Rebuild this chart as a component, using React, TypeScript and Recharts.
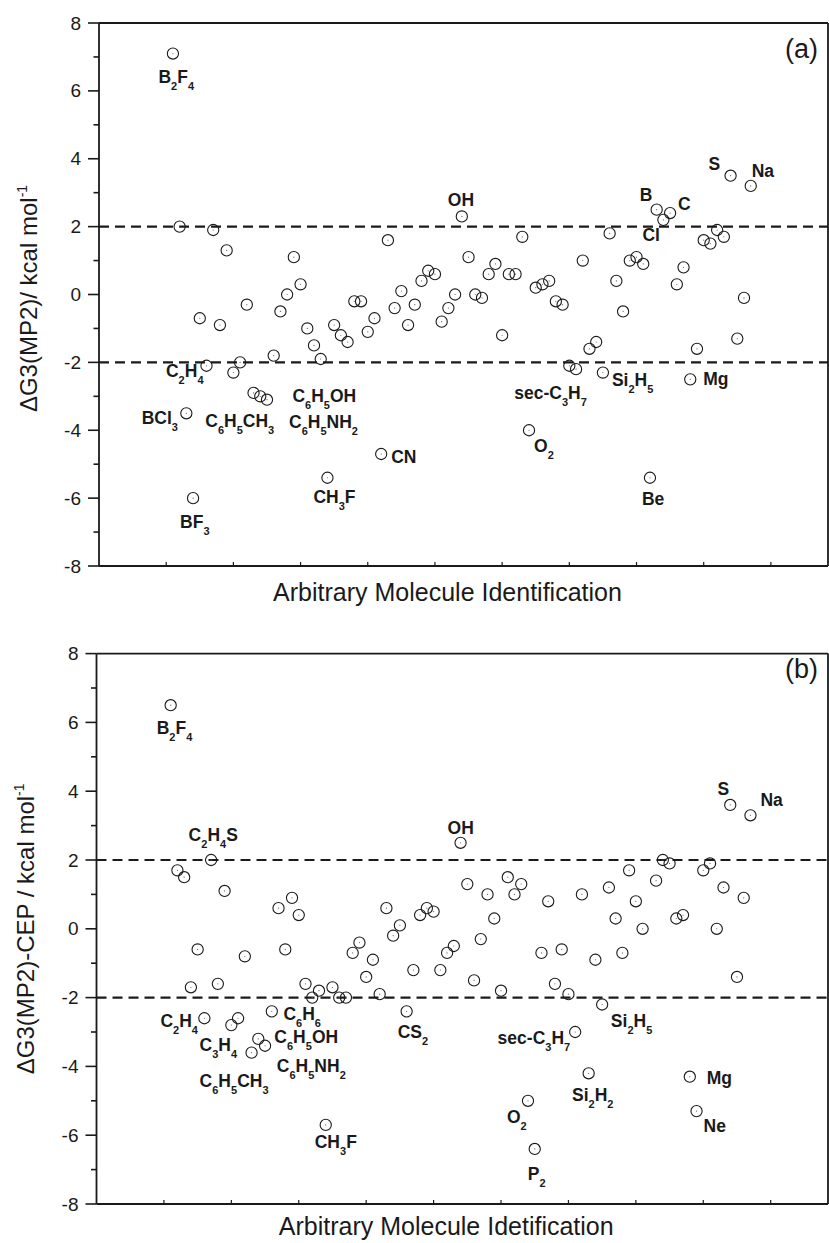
import React from "react";
import { ScatterChart, Scatter, XAxis, YAxis, ReferenceLine } from "recharts";

// molecule identification numbers (x) and deviations in kcal/mol (y)
const idsA = [
  11, 12, 13, 14, 15, 16, 17, 18, 19, 20, 21, 22, 23, 24, 25, 26, 27, 28, 29,
  30, 31, 32, 33, 34, 35, 36, 37, 38, 39, 40, 41, 42, 43, 44, 45, 46, 47, 48,
  49, 50, 51, 52, 53, 54, 55, 56, 57, 58, 59, 60, 61, 62, 63, 64, 65, 66, 67,
  68, 69, 70, 71, 72, 73, 74, 75, 76, 77, 78, 79, 80, 81, 82, 83, 84, 85, 86,
  87, 88, 89, 90, 91, 92, 93, 94, 95, 96, 97,
];
const valuesA = [
  7.1, 2.0, -3.5, -6.0, -0.7, -2.1, 1.9, -0.9, 1.3, -2.3, -2.0, -0.3, -2.9,
  -3.0, -3.1, -1.8, -0.5, 0.0, 1.1, 0.3, -1.0, -1.5, -1.9, -5.4, -0.9, -1.2,
  -1.4, -0.2, -0.2, -1.1, -0.7, -4.7, 1.6, -0.4, 0.1, -0.9, -0.3, 0.4, 0.7,
  0.6, -0.8, -0.4, 0.0, 2.3, 1.1, 0.0, -0.1, 0.6, 0.9, -1.2, 0.6, 0.6, 1.7,
  -4.0, 0.2, 0.3, 0.4, -0.2, -0.3, -2.1, -2.2, 1.0, -1.6, -1.4, -2.3, 1.8, 0.4,
  -0.5, 1.0, 1.1, 0.9, -5.4, 2.5, 2.2, 2.4, 0.3, 0.8, -2.5, -1.6, 1.6, 1.5,
  1.9, 1.7, 3.5, -1.3, -0.1, 3.2,
];
const namesA: Record<number, string> = {
  11: "B2F4", 13: "BCl3", 14: "BF3", 16: "C2H4", 25: "C6H5CH3", 32: "C6H5NH2",
  33: "C6H5OH", 34: "CH3F", 42: "CN", 54: "OH", 64: "O2", 70: "sec-C3H7",
  75: "Si2H5", 82: "Be", 83: "B", 84: "Cl", 85: "C", 88: "Mg", 94: "S", 97: "Na",
};

const idsB = [
  11, 12, 13, 14, 15, 16, 17, 18, 19, 20, 21, 22, 23, 24, 25, 26, 27, 28, 29,
  30, 31, 32, 33, 34, 35, 36, 37, 38, 39, 40, 41, 42, 43, 44, 45, 46, 47, 48,
  49, 50, 51, 52, 53, 54, 55, 56, 57, 58, 59, 60, 61, 62, 63, 64, 65, 66, 67,
  68, 69, 70, 71, 72, 73, 74, 75, 76, 77, 78, 79, 80, 81, 83, 84, 85, 86, 87,
  88, 89, 90, 91, 92, 93, 94, 95, 96, 97,
];
const valuesB = [
  6.5, 1.7, 1.5, -1.7, -0.6, -2.6, 2.0, -1.6, 1.1, -2.8, -2.6, -0.8, -3.6,
  -3.2, -3.4, -2.4, 0.6, -0.6, 0.9, 0.4, -1.6, -2.0, -1.8, -5.7, -1.7, -2.0,
  -2.0, -0.7, -0.4, -1.4, -0.9, -1.9, 0.6, -0.2, 0.1, -2.4, -1.2, 0.4, 0.6,
  0.5, -1.2, -0.7, -0.5, 2.5, 1.3, -1.5, -0.3, 1.0, 0.3, -1.8, 1.5, 1.0, 1.3,
  -5.0, -6.4, -0.7, 0.8, -1.6, -0.6, -1.9, -3.0, 1.0, -4.2, -0.9, -2.2, 1.2,
  0.3, -0.7, 1.7, 0.8, 0.0, 1.4, 2.0, 1.9, 0.3, 0.4, -4.3, -5.3, 1.7, 1.9, 0.0,
  1.2, 3.6, -1.4, 0.9, 3.3,
];
const namesB: Record<number, string> = {
  11: "B2F4", 16: "C2H4", 17: "C2H4S", 23: "C3H4", 24: "C6H5CH3", 25: "C6H5OH",
  26: "C6H6", 32: "C6H5NH2", 34: "CH3F", 46: "CS2", 54: "OH", 64: "O2",
  65: "P2", 71: "sec-C3H7", 73: "Si2H2", 75: "Si2H5", 88: "Mg", 89: "Ne",
  94: "S", 97: "Na",
};

const yTicks = [-8, -7, -6, -5, -4, -3, -2, -1, 0, 1, 2, 3, 4, 5, 6, 7, 8];
const xTicks = [10, 20, 30, 40, 50, 60, 70, 80, 90, 100];

// label placement: [dx, dy, anchor] from the circle centre to the text baseline
type Place = [number, number, "start" | "end"];
const placeA: Record<string, Place> = {
  B2F4: [-14.5, 29, "start"], BCl3: [-8.4, 10.6, "end"], BF3: [-13, 30, "start"],
  C2H4: [-3, 11.5, "end"], C6H5CH3: [-61.7, 27.4, "start"],
  C6H5OH: [-28.3, 42.7, "start"], C6H5NH2: [-25, 82.3, "start"],
  CH3F: [-14, 25, "start"], CN: [10, 9.4, "start"], OH: [-14, -10, "start"],
  O2: [5, 21.7, "start"], "sec-C3H7": [-55, 33.4, "start"],
  Si2H5: [9, 13, "start"], Be: [-8, 27.7, "start"], B: [-17, -8.6, "start"],
  Cl: [-21, 20.7, "start"], C: [8, -2.7, "start"], Mg: [13, 6, "start"],
  S: [-22, -5.7, "start"], Na: [1, -9.3, "start"],
};
const placeB: Record<string, Place> = {
  B2F4: [-14, 29, "start"], C2H4S: [-22.5, -19, "start"], C2H4: [-6.4, 8.7, "end"],
  C3H4: [-52, -1.6, "start"], C6H5CH3: [-58.7, 48, "start"],
  C6H6: [11.6, 9, "start"], C6H5OH: [9.3, -2.4, "start"],
  C6H5NH2: [-35.4, 74.4, "start"], CH3F: [-11, 23, "start"],
  CS2: [-9, 27, "start"], OH: [-13, -9, "start"], O2: [-21, 21.7, "start"],
  P2: [-7, 31, "start"], "sec-C3H7": [-5, 11.6, "end"],
  Si2H2: [-16.7, 27.7, "start"], Si2H5: [8.7, 22.7, "start"],
  Mg: [17, 7, "start"], Ne: [7, 21, "start"], S: [-12.7, -10.3, "start"],
  Na: [10, -9, "start"],
};

const FONT = "'Liberation Sans', Arial, Helvetica, sans-serif";
const INK = "#1a1a1a";

function Formula({ x, y, text, anchor }: { x: number; y: number; text: string; anchor: string }) {
  const parts = text.match(/\d+|\D+/g) || [];
  let low = false;
  return (
    <text x={x} y={y} textAnchor={anchor} fontFamily={FONT} fontWeight="bold" fontSize={17.5} fill={INK}>
      {parts.map((p, i) => {
        const sub = /^\d+$/.test(p);
        const dy = sub === low ? 0 : sub ? 7 : -7;
        low = sub;
        return (
          <tspan key={i} dy={dy} fontSize={sub ? 11 : 17.5}>
            {p}
          </tspan>
        );
      })}
    </text>
  );
}

function makeMarker(place: Record<string, Place>) {
  return (props: any) => {
    const { cx, cy, payload } = props;
    const name: string = payload?.name || "";
    const p = place[name];
    return (
      <g>
        <circle cx={cx} cy={cy} r={5.6} fill="none" stroke={INK} strokeWidth={1.1} />
        <circle cx={cx} cy={cy} r={0.6} fill="#666" />
        {name && p && <Formula x={cx + p[0]} y={cy + p[1]} text={name} anchor={p[2]} />}
      </g>
    );
  };
}

function LeftTick(props: any) {
  const { x, y, payload } = props;
  const v = payload.value;
  const major = v % 2 === 0;
  return (
    <g>
      <line x1={x - (major ? 11 : 5.5)} x2={x} y1={y} y2={y} stroke={INK} strokeWidth={1.6} />
      {major && (
        <text x={x - 18} y={y} dy={6.5} textAnchor="end" fontFamily={FONT} fontSize={19} fill={INK}>
          {v}
        </text>
      )}
    </g>
  );
}

function RightTick(props: any) {
  const { x, y } = props;
  return <line x1={x - 5} x2={x} y1={y} y2={y} stroke={INK} strokeWidth={1.6} />;
}

function BottomTick(props: any) {
  const { x, y } = props;
  return <line x1={x} x2={x} y1={y - 4} y2={y} stroke={INK} strokeWidth={1.2} />;
}

function TopTick(props: any) {
  const { x, y } = props;
  return <line x1={x} x2={x} y1={y} y2={y + 4} stroke={INK} strokeWidth={1.2} />;
}

interface PanelProps {
  ids: number[];
  values: number[];
  names: Record<number, string>;
  place: Record<string, Place>;
  letter: string;
  letterDy: number;
  yTitle: string;
  yTitleShift: number;
  xTitle: string;
  xTitleDy: number;
  height: number;
  margin: { top: number; right: number; bottom: number; left: number };
}

function Panel(props: PanelProps) {
  const { ids, values, names, place, letter, letterDy, yTitle, yTitleShift, xTitle, xTitleDy, height, margin } = props;
  const data = ids.map((id, i) => ({ x: id, y: values[i], name: names[id] || "" }));
  const axis = { stroke: INK, strokeWidth: 1.8 };
  return (
    <ScatterChart width={829} height={height} margin={margin}>
      <XAxis
        xAxisId="b"
        type="number"
        dataKey="x"
        domain={[0, 108.5]}
        ticks={xTicks}
        interval={0}
        height={1}
        tickSize={0}
        tickMargin={0}
        tickLine={false}
        axisLine={axis}
        tick={(p: any) => <BottomTick {...p} />}
        label={{
          content: (p: any) => {
            const vb = p.viewBox;
            return (
              <text x={vb.x + vb.width / 2 - 16} y={vb.y + xTitleDy} textAnchor="middle" fontFamily={FONT} fontSize={25} fill={INK}>
                {xTitle}
              </text>
            );
          },
        }}
      />
      <XAxis
        xAxisId="t"
        orientation="top"
        type="number"
        domain={[0, 108.5]}
        ticks={xTicks}
        interval={0}
        height={1}
        tickSize={0}
        tickMargin={0}
        tickLine={false}
        axisLine={axis}
        tick={(p: any) => <TopTick {...p} />}
        label={{
          content: (p: any) => {
            const vb = p.viewBox;
            return (
              <text x={vb.x + vb.width - 10} y={vb.y + vb.height + letterDy} textAnchor="end" fontFamily={FONT} fontSize={27} fill={INK}>
                {letter}
              </text>
            );
          },
        }}
      />
      <YAxis
        yAxisId="l"
        type="number"
        dataKey="y"
        domain={[-8, 8]}
        ticks={yTicks}
        interval={0}
        width={1}
        tickSize={0}
        tickMargin={0}
        tickLine={false}
        axisLine={axis}
        tick={(p: any) => <LeftTick {...p} />}
        label={{
          content: (p: any) => {
            const vb = p.viewBox;
            const cx = vb.x + vb.width - 62;
            const cy = vb.y + vb.height / 2 + yTitleShift;
            return (
              <text
                x={cx}
                y={cy}
                transform={`rotate(-90 ${cx} ${cy})`}
                textAnchor="middle"
                fontFamily={FONT}
                fontSize={24}
                fill={INK}
              >
                {yTitle}
                <tspan dy={-10} fontSize={14}>-1</tspan>
              </text>
            );
          },
        }}
      />
      <YAxis
        yAxisId="r"
        orientation="right"
        type="number"
        domain={[-8, 8]}
        ticks={yTicks}
        interval={0}
        width={1}
        tickSize={0}
        tickMargin={0}
        tickLine={false}
        axisLine={axis}
        tick={(p: any) => <RightTick {...p} />}
      />
      <ReferenceLine xAxisId="b" yAxisId="l" y={2} stroke={INK} strokeWidth={2.2} strokeDasharray="10 6" />
      <ReferenceLine xAxisId="b" yAxisId="l" y={-2} stroke={INK} strokeWidth={2.2} strokeDasharray="10 6" />
      <Scatter
        xAxisId="b"
        yAxisId="l"
        data={data}
        isAnimationActive={false}
        shape={makeMarker(place)}
      />
    </ScatterChart>
  );
}

export default function App() {
  return (
    <div style={{ position: "absolute", left: 0, top: 0, width: 829, height: 1243, background: "#fff" }}>
      <div style={{ position: "absolute", left: 0, top: 0 }}>
        <Panel
          ids={idsA}
          values={valuesA}
          names={namesA}
          place={placeA}
          letter="(a)"
          letterDy={35}
          yTitle="ΔG3(MP2)/ kcal mol"
          yTitleShift={4}
          xTitle="Arbitrary Molecule Identification"
          xTitleDy={35}
          height={620}
          margin={{ top: 22, right: 0, bottom: 53, left: 98 }}
        />
      </div>
      <div style={{ position: "absolute", left: 0, top: 620 }}>
        <Panel
          ids={idsB}
          values={valuesB}
          names={namesB}
          place={placeB}
          letter="(b)"
          letterDy={24}
          yTitle="ΔG3(MP2)-CEP / kcal mol"
          yTitleShift={0}
          xTitle="Arbitrary Molecule Idetification"
          xTitleDy={31}
          height={623}
          margin={{ top: 32.6, right: 0, bottom: 38, left: 95.5 }}
        />
      </div>
    </div>
  );
}
